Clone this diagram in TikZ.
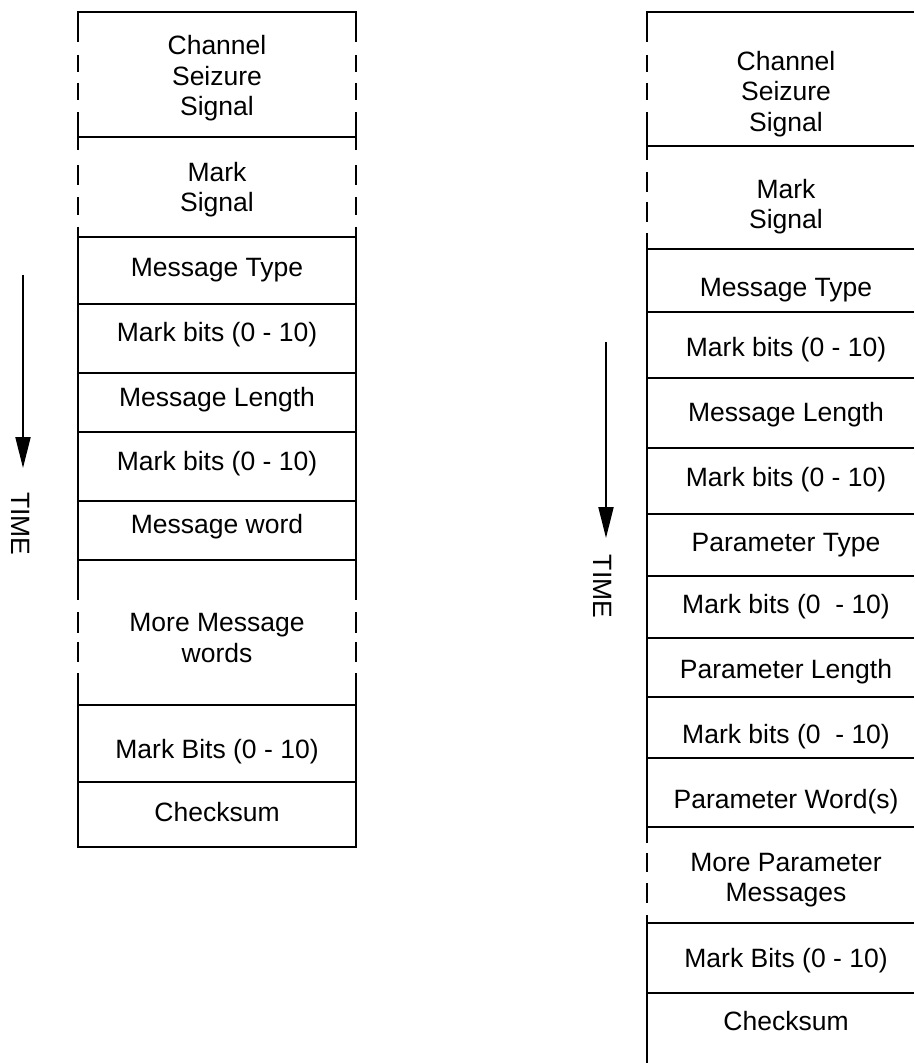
\documentclass[tikz,border=0pt]{standalone}
\usepackage{fontspec}
\setmainfont{Liberation Sans}
\usetikzlibrary{arrows.meta}

\begin{document}
\begin{tikzpicture}[x=0.5pt,y=-0.5pt]
%Declaration of styles
	\tikzstyle{field} = [anchor=base, align=center, inner sep=0pt, font=\fontsize{13.25}{15.25}\selectfont] %style for the field texts
	\tikzstyle{frame} = [line width=1.4pt] %style for the frame lines
	\tikzstyle{timearr} = [line width=1pt, -{Triangle[length=15.5pt,width=7.5pt]}] %style for the time arrows
	\useasboundingbox (0,0) rectangle (914,1063);
%Left frame, short message
	\draw [frame] (78,42) -- (78,12) -- (356,12) -- (356,42);
	\foreach \a/\b in {55/72,83/100,112/150,165/185,197/215,227/600,612/633,642/662,673/705}
		\draw [frame] (78,\a) -- (78,\b) (356,\a) -- (356,\b);
	\draw [frame] (78,705) -- (78,847) -- (356,847) -- (356,705);
	\foreach \y in {137,237,304,373,432,501,560,705,782}
		\draw [frame] (78,\y) -- (356,\y);
%Right frame, message with parameters
	\draw [frame] (647,42) -- (647,12) -- (914,12);
	\foreach \a/\b in {55/72,83/100,112/160,172/192,202/222,233/843,853/872,883/903,915/1063}
		\draw [frame] (647,\a) -- (647,\b);
	\foreach \y in {146,249,312,378,448,514,576,638,697,758,827,923,993}
		\draw [frame] (647,\y) -- (914,\y);
%Nodes, the fields of the left frame (base = last line)
	\node [field] (lseize) at (217,116) {Channel\\Seizure\\Signal};
	\node [field] (lmark) at (217,212) {Mark\\Signal};
	\node [field] (ltype) at (217,277) {Message Type};
	\node [field] (lbits1) at (217,342) {Mark bits (0 - 10)};
	\node [field] (llen) at (217,406.5) {Message Length};
	\node [field] (lbits2) at (217,470) {Mark bits (0 - 10)};
	\node [field] (lword) at (217,533) {Message word};
	\node [field] (lmore) at (217,662) {More Message\\words};
	\node [field] (lbits3) at (217,758) {Mark Bits (0 - 10)};
	\node [field] (lsum) at (217,821.5) {Checksum};
%Nodes, the fields of the right frame
	\node [field] (rseize) at (786,131.5) {Channel\\Seizure\\Signal};
	\node [field] (rmark) at (786,229) {Mark\\Signal};
	\node [field] (rtype) at (786,297) {Message Type};
	\node [field] (rbits1) at (786,357) {Mark bits (0 - 10)};
	\node [field] (rlen) at (786,421.5) {Message Length};
	\node [field] (rbits2) at (786,486.5) {Mark bits (0 - 10)};
	\node [field] (rptype) at (786,551) {Parameter Type};
	\node [field] (rbits3) at (786,613) {Mark bits (0~~- 10)};
	\node [field] (rplen) at (786,678) {Parameter Length};
	\node [field] (rbits4) at (786,743) {Mark bits (0~~- 10)};
	\node [field] (rpword) at (786,808) {Parameter Word(s)};
	\node [field] (rmore) at (786,901.5) {More Parameter\\Messages};
	\node [field] (rbits5) at (786,967) {Mark Bits (0 - 10)};
	\node [field] (rsum) at (786,1030) {Checksum};
%Time arrows
	\coordinate (ltimestart) at (23,275);
	\coordinate (ltimeend) at (23,468);
	\draw [timearr] (ltimestart) -- (ltimeend);
	\node [field, anchor=center, rotate=-90] (ltime) at (21,524) {TIME};
	\coordinate (rtimestart) at (606,342);
	\coordinate (rtimeend) at (606,538);
	\draw [timearr] (rtimestart) -- (rtimeend);
	\node [field, anchor=center, rotate=-90] (rtime) at (602.5,586.5) {TIME};
\end{tikzpicture}
\end{document}
